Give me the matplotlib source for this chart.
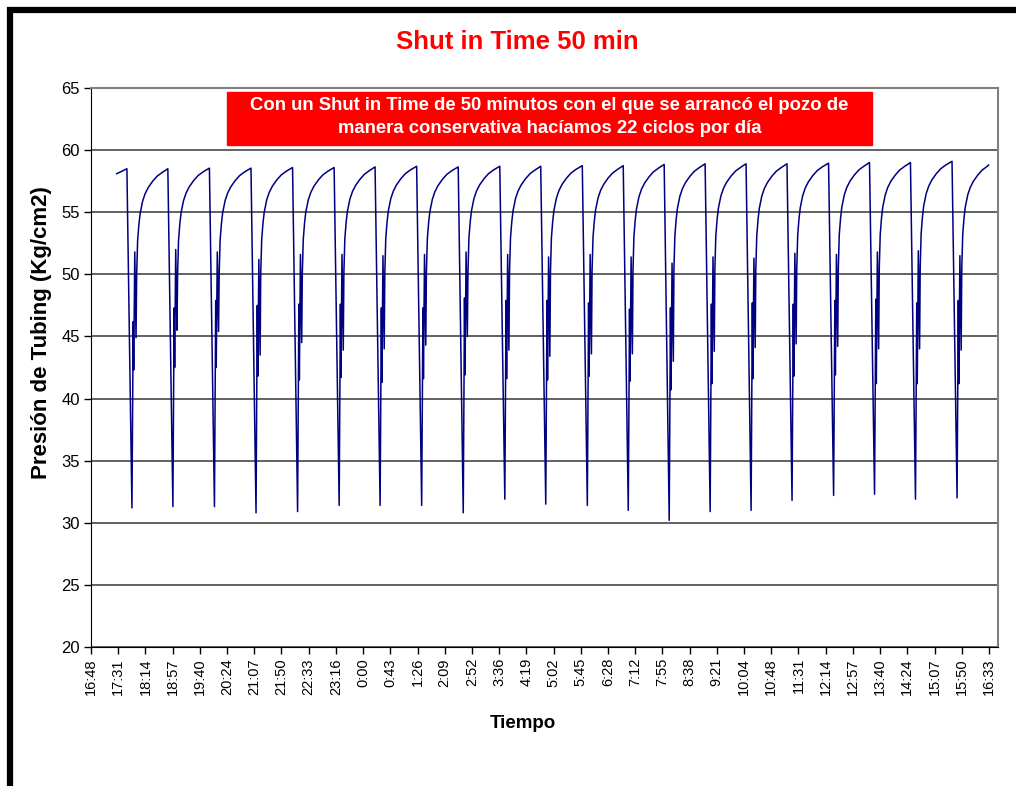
import matplotlib.pyplot as plt
import matplotlib as mpl
import numpy as np
from matplotlib.patches import Rectangle

# datos
start_time, start_val = "17:29", 58.1
end_time, end_val = "16:33", 58.8

# hora de cada mínimo de presión (apertura del pozo)
min_times = ["17:53", "18:58", "20:04", "21:10", "22:16", "23:22", "0:27", "1:33",
             "2:39", "3:45", "4:50", "5:56", "7:01", "8:06", "9:11", "10:16",
             "11:21", "12:27", "13:32", "14:37", "15:43"]
min_vals = [31.2, 31.3, 31.3, 30.8, 30.9, 31.4, 31.4, 31.4, 30.8, 31.9, 31.5,
            31.4, 31.0, 30.2, 30.9, 31.0, 31.8, 32.2, 32.3, 31.9, 32.0]
rise_vals = [46.2, 47.3, 47.9, 47.5, 47.6, 47.6, 47.3, 47.3, 48.1, 47.9, 47.9,
             47.7, 47.2, 47.3, 47.6, 47.7, 47.6, 47.9, 48.0, 47.7, 47.9]
dip_vals = [42.3, 42.5, 42.5, 41.8, 41.5, 41.7, 41.3, 41.6, 41.9, 41.6, 41.5,
            41.8, 41.4, 40.7, 41.2, 41.6, 41.8, 41.9, 41.2, 41.2, 41.2]
spike_tops = [51.8, 52.0, 51.8, 51.2, 51.6, 51.6, 51.5, 51.6, 51.8, 51.6, 51.4,
              51.6, 51.4, 50.9, 51.4, 51.3, 51.7, 51.6, 51.8, 51.9, 51.5]
spike_lows = [44.9, 45.5, 45.4, 43.5, 44.5, 43.9, 44.0, 44.3, 45.0, 43.9, 43.4,
              43.6, 43.6, 43.0, 43.8, 44.1, 44.4, 44.2, 44.0, 44.0, 43.9]
# presión máxima antes de cada cierre (la última es la del tramo final)
peak_vals = [58.5, 58.5, 58.55, 58.55, 58.6, 58.6, 58.65, 58.7, 58.65, 58.7, 58.7,
             58.75, 58.75, 58.85, 58.9, 58.9, 58.9, 58.95, 59.0, 59.0, 59.1, 59.0]
# forma de la recuperación: minutos desde el mínimo / presión por debajo del máximo
rec_minutes = [7.5, 9, 11, 13, 17, 21, 26, 33, 40, 48]
rec_below = [8.5, 5.8, 4.5, 3.6, 2.6, 2.0, 1.5, 1.0, 0.6, 0.3]

tick_labels = ["16:48", "17:31", "18:14", "18:57", "19:40", "20:24", "21:07", "21:50",
               "22:33", "23:16", "0:00", "0:43", "1:26", "2:09", "2:52", "3:36",
               "4:19", "5:02", "5:45", "6:28", "7:12", "7:55", "8:38", "9:21",
               "10:04", "10:48", "11:31", "12:14", "12:57", "13:40", "14:24",
               "15:07", "15:50", "16:33"]


def to_day(s):
    # fracción de día como en Excel; el registro empieza a las 16:48
    h, m = s.split(":")
    d = (int(h) * 60 + int(m)) / 1440.0
    return d if d >= 0.7 else d + 1.0


MIN = 1 / 1440.0
t_end = to_day(end_time)
t = [to_day(start_time)]
p = [start_val]
for i, tm_s in enumerate(min_times):
    tm = to_day(tm_s)
    t += [tm - 8 * MIN, tm, tm + 2 * MIN, tm + 2.8 * MIN, tm + 4.5 * MIN, tm + 6.5 * MIN]
    p += [peak_vals[i], min_vals[i], rise_vals[i], dip_vals[i], spike_tops[i], spike_lows[i]]
    for off, below in zip(rec_minutes, rec_below):
        if tm + off * MIN < t_end:
            t.append(tm + off * MIN)
            p.append(peak_vals[i + 1] - below)
t.append(t_end)
p.append(end_val)

plt.rcParams['font.family'] = ['Liberation Sans', 'DejaVu Sans']

fig = plt.figure(figsize=(10.16, 7.86), dpi=100)
ax = fig.add_axes([91 / 1016, 1 - 647 / 786, 907 / 1016, 559 / 786])

ax.plot(t, p, color='#000080', lw=1.1)

ax.set_xlim(0.7, 1.7)
ax.set_ylim(20, 65)
ax.set_yticks(np.arange(20, 66, 5))
ax.set_xticks(0.7 + 0.03 * np.arange(len(tick_labels)))
ax.set_xticklabels(tick_labels, rotation=90)
ax.tick_params(axis='both', direction='out', length=5, width=1, colors='black')
ax.tick_params(axis='y', labelsize=12, pad=3)
ax.tick_params(axis='x', labelsize=10.5, pad=3)
ax.yaxis.grid(True, color='#555555', lw=1.3)
ax.set_axisbelow(True)
for s in ['top', 'right']:
    ax.spines[s].set_color('#808080')
    ax.spines[s].set_linewidth(1.5)

# posición de los títulos de eje como en el original (no centrados)
ax.set_ylabel('Presión de Tubing (Kg/cm2)', fontsize=16, fontweight='bold', va='center')
ax.yaxis.set_label_coords((42 - 91) / 907, (647 - 333) / 559)
ax.set_xlabel('Tiempo', fontsize=13.5, fontweight='bold', va='center')
ax.xaxis.set_label_coords((523 - 91) / 907, -(724 - 647) / 559)
fig.text(517 / 1016, 1 - 42 / 786, 'Shut in Time 50 min', color='red', fontsize=18.5,
         fontweight='bold', ha='center', va='center')

# recuadro rojo con el comentario
fig.add_artist(Rectangle((227 / 1016, 1 - 145 / 786), 645 / 1016, 53 / 786,
                         transform=fig.transFigure, color='red', zorder=5))
fig.text(549.5 / 1016, 1 - 117 / 786,
         'Con un Shut in Time de 50 minutos con el que se arrancó el pozo de\n'
         'manera conservativa hacíamos 22 ciclos por día',
         color='white', fontsize=13.3, fontweight='bold', ha='center', va='center',
         linespacing=1.4, zorder=6)

# marco negro
fig.add_artist(Rectangle((10 / 1016, -0.2), 1.3, 1.2 - 10 / 786, transform=fig.transFigure,
                         fill=False, ec='black', lw=4.5))

plt.savefig('out.png', dpi=100)
